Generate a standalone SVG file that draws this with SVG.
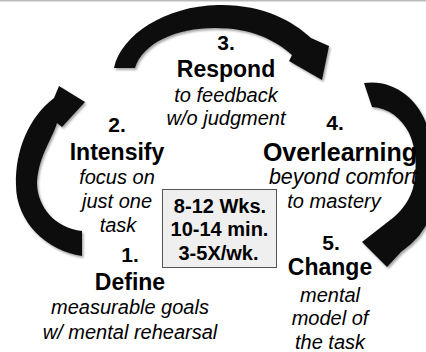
<svg xmlns="http://www.w3.org/2000/svg" width="426" height="352" viewBox="0 0 426 352">
  <style>
    text { font-family: "Liberation Sans", Arial, sans-serif; fill: #000; text-anchor: middle; }
    .num { font-weight: bold; font-size: 21px; }
    .title { font-weight: bold; font-size: 23px; }
    .note { font-style: italic; font-size: 20px; }
    .box { fill: #efefef; stroke: #555; stroke-width: 1; }
    .boxtxt { font-weight: bold; font-size: 20px; }
    .arrow { fill: #111; filter: url(#shadow); }
  </style>
  <defs>
    <filter id="shadow" x="-10%" y="-10%" width="130%" height="130%">
      <feDropShadow dx="1.5" dy="2" stdDeviation="1.2" flood-color="#000" flood-opacity="0.35"/>
    </filter>
  </defs>

  <rect width="426" height="352" fill="#fff"/>
  <rect x="0" y="0" width="426" height="1.5" fill="#bbb"/>

  <!-- cycle arrows -->
  <g id="connectors">
    <!-- 1 -> 2 : left arc, head pointing up-right -->
    <path class="arrow" d="M 82 256 C 47 251, 16 222, 16 185 C 15 150, 29 117, 54 98 L 59 86 L 85 102 L 62 127 L 57 123 C 52 140, 39 155, 37 182 C 37 207, 55 228, 82 231 Z"/>
    <!-- 2/3 -> 4 : top arc, head pointing down-right -->
    <path class="arrow" d="M 114 68 C 121 35, 165 6, 218 5 C 262 4, 293 21, 311 38 L 329 46 L 322 80 L 289 61 L 292 55 C 274 39, 250 28, 215 28 C 176 28, 143 43, 135 68 Z"/>
    <!-- 4 -> 5 : right arc, head pointing left -->
    <path class="arrow" d="M 364 83 C 392 79, 418 97, 428 128 L 431 215 C 427 226, 419 237, 411 244 L 401 252 L 387 267 L 362 242 L 394 217 C 403 209, 410 199, 413 188 C 417 172, 417 150, 409 133 C 401 118, 389 108, 372 107 Z"/>
  </g>

  <g id="step3">
    <text class="num" x="226" y="50">3.</text>
    <text class="title" x="226" y="77">Respond</text>
    <text class="note" x="226" y="102">to feedback</text>
    <text class="note" x="226" y="125">w/o judgment</text>
  </g>

  <g id="step2">
    <text class="num" x="117" y="132">2.</text>
    <text class="title" x="117" y="160">Intensify</text>
    <text class="note" x="117" y="184">focus on</text>
    <text class="note" x="117" y="208">just one</text>
    <text class="note" x="118" y="232">task</text>
  </g>

  <g id="step4">
    <text class="num" x="335" y="130">4.</text>
    <text class="title" x="340" y="161" style="font-size:25px">Overlearning</text>
    <text class="note" x="343" y="184" style="font-size:21.5px">beyond comfort</text>
    <text class="note" x="334" y="208">to mastery</text>
  </g>

  <g id="step5">
    <text class="num" x="331" y="250">5.</text>
    <text class="title" x="330" y="275">Change</text>
    <text class="note" x="330" y="302">mental</text>
    <text class="note" x="330" y="325">model of</text>
    <text class="note" x="330" y="349">the task</text>
  </g>

  <g id="step1">
    <text class="num" x="130" y="262">1.</text>
    <text class="title" x="130" y="290">Define</text>
    <text class="note" x="130" y="314">measurable goals</text>
    <text class="note" x="130" y="339">w/ mental rehearsal</text>
  </g>

  <g id="schedule">
    <rect class="box" x="162.5" y="189.5" width="114" height="78"/>
    <text class="boxtxt" x="220" y="213">8-12 Wks.</text>
    <text class="boxtxt" x="219.5" y="236">10-14 min.</text>
    <text class="boxtxt" x="218.5" y="260">3-5X/wk.</text>
  </g>
</svg>
